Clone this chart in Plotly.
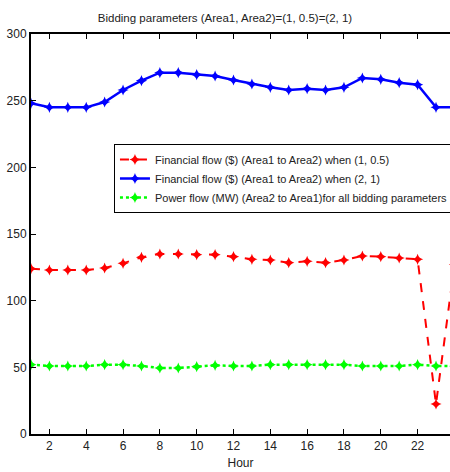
import plotly.graph_objects as go

hours = list(range(1, 25))
fin_1_05 = [124, 123, 123, 123, 124.5, 128, 132.5, 135, 135, 134.5, 134.5, 133, 131, 130.5,
            128.5, 129.5, 128.5, 130.5, 133.5, 133, 132, 131, 22.5, 127]
fin_2_1 = [248, 245, 245, 245, 249, 258, 265, 271, 271, 269.5, 268.5, 265.5, 262.5, 260,
           258, 259, 258, 260, 267, 266, 263.5, 262, 245, 245]
power = [52, 51, 51, 51, 52, 52, 51, 49.5, 49.5, 50.5, 51.5, 51, 51, 52,
         52, 52, 52, 52, 51, 51, 51, 52, 51, 51]

names = ["Financial flow ($) (Area1 to Area2) when (1, 0.5)",
         "Financial flow ($) (Area1 to Area2) when (2, 1)",
         "Power flow (MW) (Area2 to Area1)for all bidding parameters"]

FONT = "Liberation Sans, Arial, sans-serif"

fig = go.Figure()
fig.add_trace(go.Scatter(x=hours, y=fin_1_05, mode="lines+markers", name=names[0],
                         line=dict(color="#ff0000", width=2, dash="dash"),
                         marker=dict(symbol="star-diamond", size=8, color="#ff0000")))
fig.add_trace(go.Scatter(x=hours, y=fin_2_1, mode="lines+markers", name=names[1],
                         line=dict(color="#0000ff", width=2.5),
                         marker=dict(symbol="star-diamond", size=8, color="#0000ff")))
fig.add_trace(go.Scatter(x=hours, y=power, mode="lines+markers", name=names[2],
                         line=dict(color="#00ff00", width=2.5, dash="dot"),
                         marker=dict(symbol="star-diamond", size=8, color="#00ff00")))

fig.update_layout(
    width=450, height=472,
    margin=dict(l=31, r=0, t=34, b=38, autoexpand=False),
    paper_bgcolor="white", plot_bgcolor="white",
    font=dict(family=FONT, size=12, color="#222"),
    title=dict(text="Bidding parameters (Area1, Area2)=(1, 0.5)=(2, 1)",
               x=0.5, xanchor="center", y=0.962, yanchor="middle",
               font=dict(size=11.5, family=FONT, color="#222")),
    showlegend=True,
    legend=dict(x=0.198, y=0.725, xanchor="left", yanchor="top",
                bgcolor="white", bordercolor="black", borderwidth=1,
                font=dict(size=11, family=FONT, color="#222"),
                itemwidth=30, tracegroupgap=0),
)
fig.update_xaxes(range=[1, 23.76], tickmode="array", tickvals=list(range(2, 25, 2)),
                 ticks="inside", ticklen=5, tickcolor="black", tickwidth=1,
                 showline=True, linecolor="black", linewidth=2, mirror="ticks",
                 showgrid=False, zeroline=False,
                 title=dict(text="Hour", font=dict(size=12, family=FONT), standoff=6),
                 tickfont=dict(size=12, family=FONT))
fig.update_yaxes(range=[0, 300], tickmode="array", tickvals=list(range(0, 301, 50)),
                 ticks="inside", ticklen=5, tickcolor="black", tickwidth=1,
                 showline=True, linecolor="black", linewidth=2, mirror=False,
                 showgrid=False, zeroline=False,
                 tickfont=dict(size=12, family=FONT))

fig.write_html("out.html")
